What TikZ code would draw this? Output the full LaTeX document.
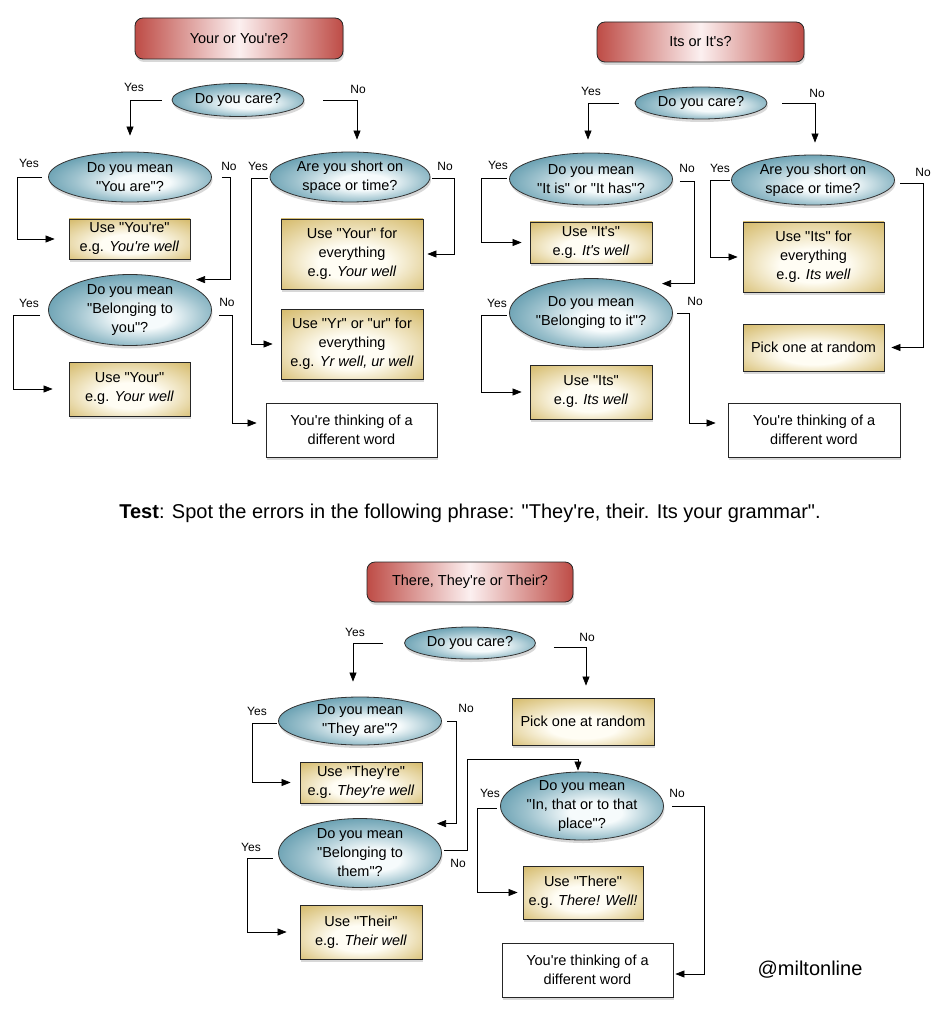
\documentclass[tikz,border=0pt]{standalone}
\usepackage{fontspec}
\setmainfont{Liberation Sans}[Ligatures=TeXOff]
\usetikzlibrary{shapes.geometric,arrows.meta,shadows,calc}
\definecolor{qout}{RGB}{86,148,168}
\definecolor{qin}{RGB}{246,251,252}
\definecolor{aout}{RGB}{214,188,110}
\definecolor{ain}{RGB}{255,253,244}
\definecolor{tred}{RGB}{190,76,70}
\definecolor{tmid}{RGB}{252,240,240}
\pgfdeclareradialshading{qshade}{\pgfpoint{5bp}{-6bp}}{color(0bp)=(qin); color(8bp)=(qin); color(20bp)=(qin!45!qout); color(32bp)=(qout); color(50bp)=(qout)}
\pgfdeclareradialshading{ashade}{\pgfpoint{0bp}{-8bp}}{color(0bp)=(ain); color(12bp)=(ain); color(24bp)=(ain!50!aout); color(36bp)=(aout); color(50bp)=(aout)}
\newcommand{\nf}{\fontsize{14.5}{19}\selectfont}
\newcommand{\lf}{\fontsize{12}{14}\selectfont}
\begin{document}
\begin{tikzpicture}[x=1pt,y=-1pt,
  shd/.style={drop shadow={shadow xshift=1pt,shadow yshift=-3pt,opacity=0.3}},
  qn/.style={ellipse,draw=black!80,line width=0.8pt,inner xsep=-4pt,inner ysep=-5pt,align=center,shading=qshade,shd,font=\nf},
  an/.style={rectangle,draw=black!85,line width=0.8pt,inner sep=0pt,align=center,shading=ashade,shd,font=\nf},
  wn/.style={rectangle,draw=black!85,line width=0.8pt,inner sep=0pt,align=center,fill=white,shd,font=\nf},
  tn/.style={rectangle,rounded corners=8pt,draw=black!85,line width=0.8pt,inner sep=0pt,left color=tred,right color=tred,middle color=tmid,shd,font=\nf},
  lb/.style={font=\lf,inner sep=0pt},
  arr/.style={-{Triangle[length=9pt,width=7pt]},line width=0.7pt},
]
\useasboundingbox[fill=white] (0,0) rectangle (943,1024);

% ---------- top-left chart ----------
\node[tn,minimum width=208pt,minimum height=41pt] (t1) at (239,38.5) {Your or You're?};
\node[qn,minimum width=132pt,minimum height=33pt] (q1) at (238,100) {Do you care?};
\node[qn,minimum width=163pt,minimum height=50pt] (q1a) at (130,177) {Do you mean\\"You are"?};
\node[an,minimum width=121pt,minimum height=40pt] (r1a) at (129.5,239) {Use "You're"\\e.g. \textit{You're well}};
\node[qn,minimum width=163pt,minimum height=71pt] (q1b) at (130,310) {Do you mean\\"Belonging to\\you"?};
\node[an,minimum width=121pt,minimum height=54pt] (r1b) at (129.5,389) {Use "Your"\\e.g. \textit{Your well}};
\node[wn,minimum width=171pt,minimum height=54pt] (w1) at (351.5,430) {You're thinking of a\\different word};
\node[qn,minimum width=160pt,minimum height=50pt] (q1c) at (350,177) {Are you short on\\space or time?};
\node[an,minimum width=142pt,minimum height=70pt] (r1c) at (352,254) {Use "Your" for\\everything\\e.g. \textit{Your well}};
\node[an,minimum width=142pt,minimum height=70pt] (r1d) at (352,344) {Use "Yr" or "ur" for\\everything\\e.g. \textit{Yr well, ur well}};

\draw[arr,shorten <=10pt,shorten >=16pt] (q1.west) -| (q1a.north);
\draw[arr,shorten <=19pt,shorten >=12pt] (q1.east) -| ($(q1c.north)+(7,0)$);
\draw[arr,shorten <=6pt,shorten >=14pt] (q1a.west) -- ++(-31,0) |- (r1a.west);
\draw[arr,shorten <=10pt] (q1a.east) -- ++(18,0) |- ($(q1b.north)+(66,5.5)$);
\draw[arr,shorten >=16pt] ($(q1b.west)+(-8,5)$) -- ++(-27,0) |- (r1b.west);
\draw[arr,shorten >=9pt] ($(q1b.east)+(7,5)$) -- ++(13,0) |- ($(w1.west)+(0,-7)$);
\draw[arr,shorten >=8pt] ($(q1c.west)+(-2,1)$) -- ++(-16,0) |- (r1d.west);
\draw[arr,shorten >=4pt] ($(q1c.east)+(2,1)$) -- ++(22,0) |- (r1c.east);

\node[lb] (y1) at (134,87) {Yes};
\node[lb] (n1) at (358,89) {No};
\node[lb] (y1a) at (29,163) {Yes};
\node[lb] (n1a) at (229,166) {No};
\node[lb] (y1c) at (258,166) {Yes};
\node[lb] (n1c) at (445,166) {No};
\node[lb] (y1b) at (29,303) {Yes};
\node[lb] (n1b) at (227,302) {No};

% ---------- top-right chart ----------
\node[tn,minimum width=207pt,minimum height=40pt] (t2) at (700.5,42) {Its or It's?};
\node[qn,minimum width=132pt,minimum height=32pt] (q2) at (701,103) {Do you care?};
\node[qn,minimum width=163pt,minimum height=52pt] (q2a) at (591,179) {Do you mean\\"It is" or "It has"?};
\node[an,minimum width=122pt,minimum height=41pt] (r2a) at (591,242.5) {Use "It's"\\e.g. \textit{It's well}};
\node[qn,minimum width=163pt,minimum height=69pt] (q2b) at (591,313) {Do you mean\\"Belonging to it"?};
\node[an,minimum width=122pt,minimum height=54pt] (r2b) at (591,392) {Use "Its"\\e.g. \textit{Its well}};
\node[wn,minimum width=172pt,minimum height=54pt] (w2) at (814,430) {You're thinking of a\\different word};
\node[qn,minimum width=163pt,minimum height=50pt] (q2c) at (813,180) {Are you short on\\space or time?};
\node[an,minimum width=141pt,minimum height=70pt] (r2c) at (813.5,257) {Use "Its" for\\everything\\e.g. \textit{Its well}};
\node[an,minimum width=141pt,minimum height=47pt] (r2d) at (813.5,347.5) {Pick one at random};

\draw[arr,shorten <=16pt,shorten >=13pt] (q2.west) -| ($(q2a.north)+(-3,0)$);
\draw[arr,shorten <=15pt,shorten >=12pt] (q2.east) -| ($(q2c.north)+(2,0)$);
\draw[arr,shorten >=8pt] ($(q2a.west)+(-2.5,-1)$) -- ++(-25,0) |- (r2a.west);
\draw[arr] ($(q2a.east)+(7,2)$) -- ++(14,0) |- ($(q2b.north)+(71,5.5)$);
\draw[arr,shorten >=8pt] ($(q2b.west)+(-2.5,2)$) -- ++(-25,0) |- (r2b.west);
\draw[arr,shorten >=12pt] ($(q2b.east)+(4,0)$) -- ++(12,0) |- ($(w2.west)+(0,-7)$);
\draw[arr,shorten >=5pt] ($(q2c.west)+(-1.5,0)$) -- ++(-19,0) |- (r2c.west);
\draw[arr,shorten >=7pt] ($(q2c.east)+(5.5,3)$) -- ++(23,0) |- (r2d.east);

\node[lb] (y2) at (591,91) {Yes};
\node[lb] (n2) at (817,93) {No};
\node[lb] (y2a) at (498,165) {Yes};
\node[lb] (n2a) at (687,168) {No};
\node[lb] (y2c) at (720,168) {Yes};
\node[lb] (n2c) at (923,172) {No};
\node[lb] (y2b) at (497,303) {Yes};
\node[lb] (n2b) at (695,301) {No};

% ---------- test line ----------
\node[font=\fontsize{20}{24}\selectfont,inner sep=0pt] (test) at (470,513) {\textbf{Test}: Spot the errors in the following phrase: "They're, their. Its your grammar".};

% ---------- bottom chart ----------
\node[tn,minimum width=206pt,minimum height=40pt] (t3) at (470,582) {There, They're or Their?};
\node[qn,minimum width=131pt,minimum height=32pt] (q3) at (470,643) {Do you care?};
\node[an,minimum width=142pt,minimum height=47pt] (r3p) at (583,721.5) {Pick one at random};
\node[qn,minimum width=163pt,minimum height=48pt] (q3a) at (360,721) {Do you mean\\"They are"?};
\node[an,minimum width=122pt,minimum height=41pt] (r3a) at (361,782.5) {Use "They're"\\e.g. \textit{They're well}};
\node[qn,minimum width=163pt,minimum height=69pt] (q3b) at (360,853) {Do you mean\\"Belonging to\\them"?};
\node[an,minimum width=122pt,minimum height=54pt] (r3b) at (361,932) {Use "Their"\\e.g. \textit{Their well}};
\node[qn,minimum width=163pt,minimum height=68pt] (q3c) at (582,806) {Do you mean\\"In, that or to that\\place"?};
\node[an,minimum width=120pt,minimum height=53pt] (r3c) at (583,892.5) {Use "There"\\e.g. \textit{There! Well!}};
\node[wn,minimum width=171pt,minimum height=54pt] (w3) at (587.5,970) {You're thinking of a\\different word};

\draw[arr,shorten <=21pt,shorten >=15pt] (q3.west) -| ($(q3a.north)+(-7,0)$);
\draw[arr,shorten <=18pt,shorten >=12pt] ($(q3.east)+(0,4)$) -| ($(r3p.north)+(3,0)$);
\draw[arr,shorten >=9pt] ($(q3a.west)+(-1.5,2)$) -- ++(-24,0) |- (r3a.west);
\draw[arr] ($(q3a.east)+(5.5,0)$) -- ++(9,0) |- ($(q3b.north)+(77,5.5)$);
\draw[arr,shorten >=13pt] ($(q3b.west)+(-5.5,5)$) -- ++(-25,0) |- (r3b.west);
\draw[arr,shorten >=1pt] ($(q3b.east)+(2.5,-3)$) -- ++(23,0) -- ++(0,-91) -| ($(q3c.north)+(-4,0)$);
\draw[arr,shorten >=5pt] ($(q3c.west)+(-3.5,2)$) -- ++(-19,0) |- (r3c.west);
\draw[arr,shorten >=2pt] ($(q3c.east)+(8.5,0)$) -- ++(32,0) |- ($(w3.east)+(0,4)$);

\node[lb] (y3) at (355,632) {Yes};
\node[lb] (n3) at (587,637) {No};
\node[lb] (y3a) at (257,711) {Yes};
\node[lb] (n3a) at (466,708) {No};
\node[lb] (y3b) at (251,847) {Yes};
\node[lb] (n3b) at (458,863) {No};
\node[lb] (y3c) at (490,793) {Yes};
\node[lb] (n3c) at (677,793) {No};

\node[font=\fontsize{20}{24}\selectfont,inner sep=0pt] (handle) at (810,970) {@miltonline};
\end{tikzpicture}
\end{document}
